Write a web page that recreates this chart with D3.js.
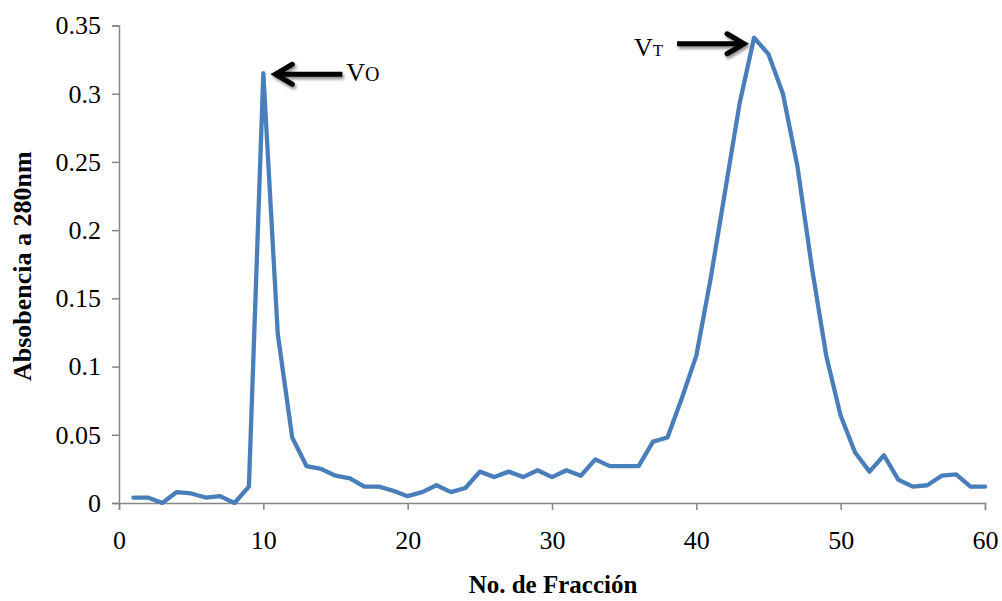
<!DOCTYPE html>
<html>
<head>
<meta charset="utf-8">
<script src="https://cdn.jsdelivr.net/npm/d3@7"></script>
<style>
  html, body { margin: 0; padding: 0; background: #fff; }
  svg { display: block; }
  text { font-family: "Liberation Serif", "Times New Roman", serif; fill: #000; }
</style>
</head>
<body>
<svg id="chart" width="1002" height="601"></svg>
<script>
// Fraction numbers and absorbance readings at 280 nm
const fractions = d3.range(1, 61);
const absorbance = [
  0.004, 0.004, 0.000, 0.008, 0.007, 0.004, 0.005, 0.000, 0.012, 0.315,
  0.124, 0.048, 0.027, 0.025, 0.020, 0.018, 0.012, 0.012, 0.009, 0.005,
  0.008, 0.013, 0.008, 0.011, 0.023, 0.019, 0.023, 0.019, 0.024, 0.019,
  0.024, 0.020, 0.032, 0.027, 0.027, 0.027, 0.045, 0.048, 0.077, 0.108,
  0.165, 0.229, 0.293, 0.341, 0.329, 0.300, 0.247, 0.173, 0.108, 0.064,
  0.037, 0.023, 0.035, 0.017, 0.012, 0.013, 0.020, 0.021, 0.012, 0.012
];
const xTicks = [0, 10, 20, 30, 40, 50, 60];
const yTicks = [0, 0.05, 0.1, 0.15, 0.2, 0.25, 0.3, 0.35];
const yTickLabels = ["0", "0.05", "0.1", "0.15", "0.2", "0.25", "0.3", "0.35"];
// Peak annotations: void volume and total volume
const peakMarks = [
  { fraction: 10, main: "V", sub: "O", side: "right" },
  { fraction: 44, main: "V", sub: "T", side: "left" }
];

const svg = d3.select("#chart");
const plotLeft = 119, plotRight = 985, plotTop = 25.5, plotBottom = 503;

const x = d3.scaleLinear().domain([0, 60]).range([plotLeft, plotRight]);
const y = d3.scaleLinear().domain([0, 0.35]).range([plotBottom, plotTop]);

const axisColor = "#868686";

// Y axis
const yAxis = svg.append("g")
  .attr("transform", `translate(${plotLeft},0)`)
  .call(d3.axisLeft(y).tickValues(yTicks).tickSize(7).tickPadding(11)
    .tickFormat((d, i) => yTickLabels[i]));
yAxis.select(".domain").attr("stroke", axisColor).attr("stroke-width", 1.5);
yAxis.selectAll(".tick line").attr("stroke", axisColor).attr("stroke-width", 1.5);
yAxis.selectAll(".tick text")
  .attr("font-family", "Liberation Serif, Times New Roman, serif")
  .attr("font-size", 26).attr("fill", "#000");

// X axis
const xAxis = svg.append("g")
  .attr("transform", `translate(0,${plotBottom})`)
  .call(d3.axisBottom(x).tickValues(xTicks).tickSize(7).tickPadding(21)
    .tickFormat(d3.format("d")));
xAxis.select(".domain").attr("stroke", axisColor).attr("stroke-width", 1.5);
xAxis.selectAll(".tick line").attr("stroke", axisColor).attr("stroke-width", 1.5);
xAxis.selectAll(".tick text")
  .attr("font-family", "Liberation Serif, Times New Roman, serif")
  .attr("font-size", 26).attr("fill", "#000");

// Axis titles
svg.append("text")
  .attr("x", 553).attr("y", 593)
  .attr("text-anchor", "middle")
  .attr("font-size", 25).attr("font-weight", "bold")
  .text("No. de Fracción");

svg.append("text")
  .attr("transform", `translate(31,${(plotTop + plotBottom) / 2 + 2}) rotate(-90)`)
  .attr("text-anchor", "middle")
  .attr("font-size", 26).attr("font-weight", "bold")
  .text("Absobencia a 280nm");

// Absorbance profile
const line = d3.line()
  .x((d, i) => x(fractions[i]))
  .y(d => y(d));

svg.append("path")
  .datum(absorbance)
  .attr("fill", "none")
  .attr("stroke", "#4a7ebb")
  .attr("stroke-width", 4.3)
  .attr("stroke-linejoin", "round")
  .attr("stroke-linecap", "round")
  .attr("d", line);

// Arrow shadow
const defs = svg.append("defs");
const f = defs.append("filter").attr("id", "arrowShadow")
  .attr("x", "-20%").attr("y", "-50%").attr("width", "150%").attr("height", "250%");
f.append("feDropShadow").attr("dx", 1.5).attr("dy", 2.5)
  .attr("stdDeviation", 1.8).attr("flood-color", "#000").attr("flood-opacity", 0.45);

// Peak arrows and labels
peakMarks.forEach(m => {
  const px = x(m.fraction), py = y(absorbance[m.fraction - 1]);
  const g = svg.append("g");
  let tipX, tipY, tailX, dir;
  if (m.side === "right") {
    tipX = px + 12; tipY = py + 1; tailX = tipX + 67; dir = -1;
  } else {
    tipX = px - 10; tipY = py + 6; tailX = tipX - 67; dir = 1;
  }
  const arrow = g.append("g").attr("filter", "url(#arrowShadow)");
  arrow.append("path")
    .attr("d", `M${tailX},${tipY} L${tipX - dir * 3},${tipY}`)
    .attr("stroke", "#000").attr("stroke-width", 5).attr("fill", "none");
  arrow.append("path")
    .attr("d", `M${tipX - dir * 17},${tipY - 10} L${tipX},${tipY} L${tipX - dir * 17},${tipY + 10}`)
    .attr("stroke", "#000").attr("stroke-width", 5).attr("fill", "none")
    .attr("stroke-linecap", "round").attr("stroke-linejoin", "miter");

  const t = g.append("text").attr("font-size", 26);
  if (m.side === "right") {
    t.attr("x", tailX + 4).attr("y", tipY + 7).attr("text-anchor", "start");
  } else {
    t.attr("x", tailX - 14).attr("y", tipY + 12).attr("text-anchor", "end");
  }
  t.append("tspan").text(m.main);
  t.append("tspan").attr("font-size", m.sub === "O" ? 20 : 17).text(m.sub);
});
</script>
</body>
</html>
